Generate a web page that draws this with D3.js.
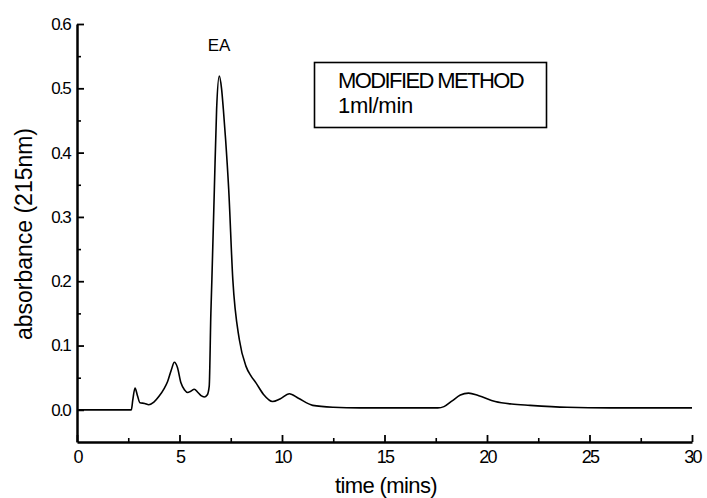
<!DOCTYPE html>
<html>
<head>
<meta charset="utf-8">
<script src="https://d3js.org/d3.v7.min.js"></script>
<style>
  body { margin: 0; background: #fff; }
  svg text { font-family: "Liberation Sans", Arial, sans-serif; fill: #000; }
  .axis path, .axis line { stroke: #000; }
  .line { fill: none; stroke: #000; stroke-width: 1.6px; }
</style>
</head>
<body>
<div id="chart"></div>
<script>
// chromatogram
var timeMins = [0, 2.65, 2.72, 2.83, 2.95, 3.07, 3.3, 3.5, 3.75, 4.0, 4.25, 4.42, 4.6, 4.75, 4.9, 5.07,
    5.25, 5.4, 5.55, 5.72, 5.9, 6.05, 6.21, 6.35, 6.45, 6.53, 6.58, 6.7, 6.81, 6.94, 7.05, 7.14,
    7.25, 7.4, 7.6, 7.92, 8.24, 8.5, 8.73, 9.1, 9.54, 9.9, 10.36, 10.8, 11.5, 12.5, 13.8, 16,
    17.6, 17.9, 18.3, 18.7, 19.1, 19.6, 20.4, 21.2, 22.1, 23.9, 26, 30];
var absorbance = [0, 0, 0.015, 0.034, 0.022, 0.011, 0.010, 0.008, 0.012, 0.021, 0.033, 0.044, 0.062, 0.074, 0.066, 0.042,
    0.031, 0.027, 0.029, 0.032, 0.027, 0.022, 0.020, 0.023, 0.037, 0.15, 0.203, 0.343, 0.467, 0.519, 0.50, 0.467,
    0.42, 0.343, 0.203, 0.109, 0.068, 0.052, 0.042, 0.024, 0.013, 0.017, 0.025, 0.018, 0.007, 0.004, 0.003, 0.003,
    0.003, 0.005, 0.014, 0.023, 0.026, 0.022, 0.013, 0.009, 0.007, 0.004, 0.003, 0.003];

var xMajorTicks = [0, 5, 10, 15, 20, 25, 30];
var xMinorTicks = [2.5, 7.5, 12.5, 17.5, 22.5, 27.5];
var yMajorTicks = [0.0, 0.1, 0.2, 0.3, 0.4, 0.5, 0.6];
var yMinorTicks = [0.05, 0.15, 0.25, 0.35, 0.45, 0.55];

var peakLabel = 'EA';
var legendLines = ['MODIFIED METHOD', '1ml/min'];
var xTitle = 'time (mins)';
var yTitle = 'absorbance (215nm)';

var width = 707, height = 498;

var svg = d3.select('#chart').append('svg')
    .attr('width', width)
    .attr('height', height);

var x = d3.scaleLinear().domain([0, 30]).range([77, 692]);
var y = d3.scaleLinear().domain([-0.05, 0.6]).range([442, 24]);

// minor ticks first, no labels
svg.append('g')
    .attr('class', 'axis')
    .attr('transform', 'translate(0,' + y(-0.05) + ')')
    .call(d3.axisBottom(x).tickValues(xMinorTicks).tickSize(-4).tickFormat(''))
    .call(function (g) { g.select('.domain').remove(); g.selectAll('line').attr('stroke-width', 1.6); });
svg.append('g')
    .attr('class', 'axis')
    .attr('transform', 'translate(' + x(0) + ',0)')
    .call(d3.axisLeft(y).tickValues(yMinorTicks).tickSize(-4).tickFormat(''))
    .call(function (g) { g.select('.domain').remove(); g.selectAll('line').attr('stroke-width', 1.6); });

var xAxis = svg.append('g')
    .attr('class', 'axis')
    .attr('transform', 'translate(0,' + y(-0.05) + ')')
    .call(d3.axisBottom(x).tickValues(xMajorTicks).tickSizeInner(-7).tickSizeOuter(0).tickPadding(8).tickFormat(d3.format('d')));
xAxis.select('.domain').attr('stroke-width', 2.5);
xAxis.selectAll('line').attr('stroke-width', 1.8);
xAxis.selectAll('text').attr('font-size', 18).attr('letter-spacing', '-1.8px');

var yAxis = svg.append('g')
    .attr('class', 'axis')
    .attr('transform', 'translate(' + x(0) + ',0)')
    .call(d3.axisLeft(y).tickValues(yMajorTicks).tickSizeInner(-7).tickSizeOuter(0).tickPadding(7).tickFormat(d3.format('.1f')));
yAxis.select('.domain').attr('stroke-width', 2.5);
yAxis.selectAll('line').attr('stroke-width', 1.8);
yAxis.selectAll('text').attr('font-size', 17).attr('letter-spacing', '-1.6px');

var line = d3.line()
    .curve(d3.curveMonotoneX)
    .x(function (d, i) { return x(timeMins[i]); })
    .y(function (d) { return y(d); });

svg.append('path')
    .datum(absorbance)
    .attr('class', 'line')
    .attr('d', line);

svg.append('text')
    .attr('x', 219)
    .attr('y', 51)
    .attr('text-anchor', 'middle')
    .attr('font-size', 17)
    .text(peakLabel);

// legend box
svg.append('rect')
    .attr('x', 314.5)
    .attr('y', 62.5)
    .attr('width', 232)
    .attr('height', 65)
    .attr('fill', 'none')
    .attr('stroke', '#000')
    .attr('stroke-width', 1.6);

svg.selectAll('.legend-text')
    .data(legendLines)
    .enter().append('text')
    .attr('class', 'legend-text')
    .attr('x', 338)
    .attr('y', function (d, i) { return 88 + i * 25; })
    .attr('font-size', 22)
    .attr('letter-spacing', function (d, i) { return i === 0 ? '-1.6px' : '-0.3px'; })
    .text(function (d) { return d; });

svg.append('text')
    .attr('x', 386)
    .attr('y', 493)
    .attr('text-anchor', 'middle')
    .attr('font-size', 22)
    .attr('letter-spacing', '-0.6px')
    .text(xTitle);

svg.append('text')
    .attr('transform', 'translate(32,234) rotate(-90)')
    .attr('text-anchor', 'middle')
    .attr('font-size', 23)
    .attr('textLength', 212)
    .attr('lengthAdjust', 'spacingAndGlyphs')
    .text(yTitle);
</script>
</body>
</html>
